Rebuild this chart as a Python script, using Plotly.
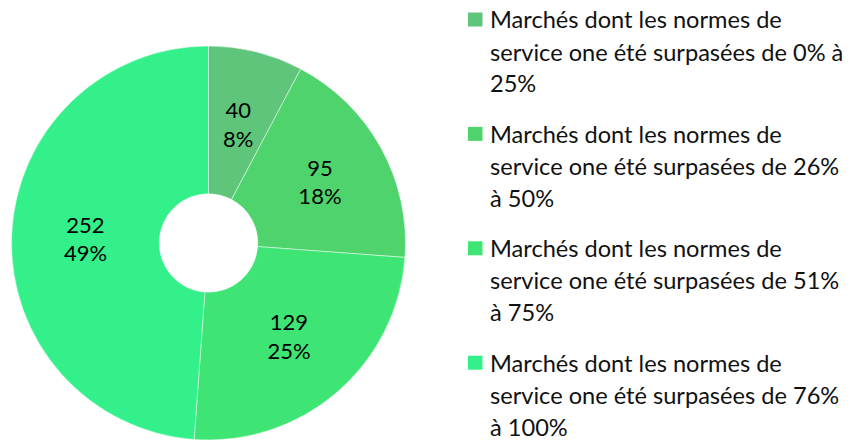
import math
import plotly.graph_objects as go

categories = [
    "Marchés dont les normes de service one été surpasées de 0% à 25%",
    "Marchés dont les normes de service one été surpasées de 26% à 50%",
    "Marchés dont les normes de service one été surpasées de 51% à 75%",
    "Marchés dont les normes de service one été surpasées de 76% à 100%",
]
legend_lines = [
    ["Marchés dont les normes de", "service one été surpasées de 0% à", "25%"],
    ["Marchés dont les normes de", "service one été surpasées de 26%", "à 50%"],
    ["Marchés dont les normes de", "service one été surpasées de 51%", "à 75%"],
    ["Marchés dont les normes de", "service one été surpasées de 76%", "à 100%"],
]
values = [40, 95, 129, 252]
colors = ["#5fc57b", "#4fd46d", "#3fe574", "#33f08a"]

W, H = 861, 440
FONT = "Lato"
LEG_FS = 23.6
LBL_FS = 22
HOLE = 0.25

# pie placement (pixels)
px0, px1 = 11, 406
py_top = 46
dom_x = [px0 / W, px1 / W]
dom_y = [0, (H - py_top) / H]

total = sum(values)
# slices whose inside label plotly pushes too far out are labelled by annotation
own_label = [True, False, False, False]
textpos = ["none" if o else "inside" for o in own_label]

fig = go.Figure()
fig.add_trace(go.Pie(
    labels=categories,
    values=values,
    sort=False,
    direction="clockwise",
    rotation=0,
    hole=HOLE,
    marker=dict(colors=colors, line=dict(color="rgba(255,255,255,0.6)", width=0.8)),
    texttemplate="%{value}<br>%{percent:.0%}",
    textposition=textpos,
    insidetextorientation="horizontal",
    textfont=dict(family=FONT, size=LBL_FS, color="#000000"),
    domain=dict(x=dom_x, y=dom_y),
    showlegend=False,
    hoverinfo="label+value+percent",
))

annotations = []
shapes = []

# labels at mid-annulus for the flagged slices (derived from the data)
R = min(px1 - px0, H - py_top) / 2
cx = (px0 + px1) / 2
cy = py_top + R
cum = 0
for v, o in zip(values, own_label):
    mid = cum + v / 2
    cum += v
    if not o:
        continue
    th = 2 * math.pi * mid / total
    r = R * (1 + HOLE) / 2
    x = cx + r * math.sin(th)
    y = cy - r * math.cos(th)
    annotations.append(dict(
        text=f"{v}<br>{round(100 * v / total)}%", xref="paper", yref="paper",
        x=x / W, y=1 - y / H, xanchor="center", yanchor="middle", showarrow=False,
        font=dict(family=FONT, size=LBL_FS, color="#000000"),
    ))

# custom legend (square + wrapped text), laid out on a fixed pitch
item_top = 19.5
item_pitch = 114.4
line_pitch = 32
for i, lines in enumerate(legend_lines):
    yc = item_top + i * item_pitch
    shapes.append(dict(
        type="rect", xref="paper", yref="paper",
        x0=468 / W, x1=482.5 / W, y0=1 - (yc + 7) / H, y1=1 - (yc - 7) / H,
        fillcolor=colors[i], line=dict(width=0),
    ))
    for j, txt in enumerate(lines):
        annotations.append(dict(
            text=txt, xref="paper", yref="paper",
            x=488 / W, y=1 - (yc + j * line_pitch) / H,
            xanchor="left", yanchor="middle", showarrow=False,
            font=dict(family=FONT, size=LEG_FS, color="#111111"),
        ))

fig.update_layout(
    width=W, height=H,
    margin=dict(l=0, r=0, t=0, b=0),
    paper_bgcolor="white",
    plot_bgcolor="white",
    annotations=annotations,
    shapes=shapes,
)

fig.write_html("out.html", config={"displayModeBar": False},
               post_script="document.body.style.margin='0';")
